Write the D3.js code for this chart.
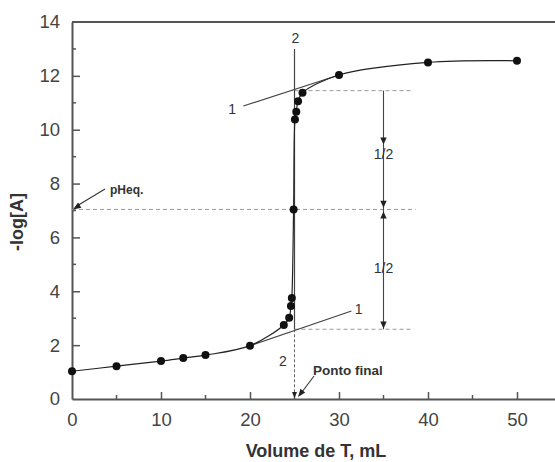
<!DOCTYPE html>
<html><head><meta charset="utf-8">
<script src="https://cdn.jsdelivr.net/npm/d3@7"></script>
<style>body{margin:0;background:#fff}svg{display:block;font-family:"Liberation Sans",Arial,sans-serif}</style>
</head><body><svg id="c" width="555" height="462"></svg>
<script>
// Data
const volume = [0, 5, 10, 12.5, 15, 20, 23.8, 24.4, 24.6, 24.7, 24.9, 25.05, 25.2, 25.4, 25.9, 30, 40, 50];
const logA   = [1.03, 1.22, 1.41, 1.52, 1.63, 1.98, 2.75, 3.02, 3.45, 3.75, 7.04, 10.38, 10.67, 11.06, 11.37, 12.03, 12.5, 12.56];
const xTicks = [0, 10, 20, 30, 40, 50];
const yTicks = [0, 2, 4, 6, 8, 10, 12, 14];
const lowerTangent = [[20, 1.98], [31.4, 3.27]];
const upperTangent = [[19.25, 10.88], [30, 12.03]];
const equivVolume = 25;
const verticalTop = 13.0;
const levels = [11.45, 7.04, 2.59];

const W = 555, H = 462;
const svg = d3.select("#c");
const x = d3.scaleLinear().domain([0, 55]).range([72, 561.5]);
const y = d3.scaleLinear().domain([0, 14]).range([399, 22]);
const ink = "#333", tickInk = "#444";

// frame
svg.append("line").attr("x1", x(0)).attr("x2", x(55)).attr("y1", y(14)).attr("y2", y(14)).attr("stroke", "#555").attr("stroke-width", 2);

// axes
const xAxis = d3.axisBottom(x).tickValues(xTicks).tickSize(-7).tickPadding(14).tickSizeOuter(0);
const gx = svg.append("g").attr("transform", `translate(0,${y(0)})`).call(xAxis);
const yAxis = d3.axisLeft(y).tickValues(yTicks).tickSize(-8).tickPadding(12).tickSizeOuter(0);
const gy = svg.append("g").attr("transform", `translate(${x(0)},0)`).call(yAxis);
[gx, gy].forEach(g => {
  g.select(".domain").attr("stroke", "#555").attr("stroke-width", 2);
  g.selectAll(".tick line").attr("stroke", "#555").attr("stroke-width", 1.5);
  g.selectAll(".tick text").attr("fill", tickInk).attr("font-size", 18.5).attr("font-family", "Liberation Sans, Arial, sans-serif");
});
gy.selectAll(".tick").filter(d => d === 0 || d === 14).select("line").remove();
gx.selectAll(".tick").filter(d => d === 0).select("line").remove();
// minor ticks
const xMinor = [5, 15, 25, 35, 45];
svg.append("g").selectAll("line").data(xMinor).join("line")
  .attr("x1", d => x(d)).attr("x2", d => x(d)).attr("y1", y(0)).attr("y2", y(0) - 4).attr("stroke", "#555").attr("stroke-width", 1.5);
const yMinor = [1, 3, 5, 7, 9, 11, 13];
svg.append("g").selectAll("line").data(yMinor).join("line")
  .attr("x1", x(0)).attr("x2", x(0) + 4).attr("y1", d => y(d)).attr("y2", d => y(d)).attr("stroke", "#555").attr("stroke-width", 1.5);

// axis titles
svg.append("text").attr("x", 316).attr("y", 457).attr("text-anchor", "middle").attr("font-weight", "bold").attr("font-size", 18).attr("fill", ink).text("Volume de T, mL");
svg.append("text").attr("transform", "translate(23,222) rotate(-90)").attr("text-anchor", "middle").attr("font-weight", "bold").attr("font-size", 18).attr("fill", ink).text("-log[A]");

// dashed level lines
const dash = "4,3";
svg.append("line").attr("x1", x(equivVolume)).attr("x2", x(38.3)).attr("y1", y(levels[0])).attr("y2", y(levels[0])).attr("stroke", "#999").attr("stroke-dasharray", dash);
svg.append("line").attr("x1", x(0)).attr("x2", x(38.6)).attr("y1", y(levels[1])).attr("y2", y(levels[1])).attr("stroke", "#999").attr("stroke-dasharray", dash);
svg.append("line").attr("x1", x(equivVolume)).attr("x2", x(38.4)).attr("y1", y(levels[2])).attr("y2", y(levels[2])).attr("stroke", "#999").attr("stroke-dasharray", dash);

// vertical line "2"
svg.append("line").attr("x1", x(equivVolume)).attr("x2", x(equivVolume)).attr("y1", y(verticalTop)).attr("y2", y(levels[2])).attr("stroke", "#444").attr("stroke-width", 1.2);
svg.append("line").attr("x1", x(equivVolume)).attr("x2", x(equivVolume)).attr("y1", y(levels[2])).attr("y2", y(0) - 2).attr("stroke", "#666").attr("stroke-dasharray", "3,2");

// tangents
const lineGen = d3.line().x(d => x(d[0])).y(d => y(d[1]));
svg.append("path").attr("d", lineGen(lowerTangent)).attr("fill", "none").attr("stroke", "#444").attr("stroke-width", 1.1);
svg.append("path").attr("d", lineGen(upperTangent)).attr("fill", "none").attr("stroke", "#444").attr("stroke-width", 1.1);

// curve
const pts = volume.map((v, i) => [v, logA[i]]);
const curve = d3.line().x(d => x(d[0])).y(d => y(d[1])).curve(d3.curveCatmullRom.alpha(0.5));
svg.append("path").attr("d", curve(pts)).attr("fill", "none").attr("stroke", "#222").attr("stroke-width", 1.2);
svg.append("g").selectAll("circle").data(pts).join("circle")
  .attr("cx", d => x(d[0])).attr("cy", d => y(d[1])).attr("r", 4).attr("fill", "#111");

// arrowheads
function tri(px, py, dir, s = 7, w = 3.2) {
  const k = dir === "down" ? -1 : 1;
  return `M${px},${py}L${px - w},${py + k * s}L${px + w},${py + k * s}Z`;
}
const arrowX = 35;
svg.append("line").attr("x1", x(arrowX)).attr("x2", x(arrowX)).attr("y1", y(levels[0])).attr("y2", y(levels[2])).attr("stroke", "#444").attr("stroke-width", 1.1);
const heads = [[arrowX, 9.45, "down"], [arrowX, levels[1] + 0.06, "down"], [arrowX, levels[1] - 0.08, "up"], [arrowX, levels[2] + 0.03, "down"]];
svg.append("g").selectAll("path").data(heads).join("path")
  .attr("d", d => tri(x(d[0]), y(d[1]), d[2])).attr("fill", "#222");

// labels
const small = (px, py, t, anchor = "middle") => svg.append("text").attr("x", px).attr("y", py).attr("text-anchor", anchor).attr("font-size", 14).attr("fill", ink).text(t);
small(x(35), y(9.1) + 5, "1/2");
small(x(35), y(4.86) + 5, "1/2");
small(x(18.0), y(10.76) + 5, "1");
small(x(32.2), y(3.34) + 5, "1");
small(x(25.1), y(13.4) + 5, "2");
small(x(23.7), y(1.42) + 5, "2");

// pHeq annotation
svg.append("text").attr("x", 110).attr("y", 194).attr("font-size", 12).attr("font-weight", "bold").attr("fill", ink).text("pHeq.");
svg.append("line").attr("x1", 105).attr("y1", 189).attr("x2", x(0) + 4).attr("y2", y(levels[1]) - 3).attr("stroke", "#333").attr("stroke-width", 1.1);
svg.append("path").attr("d", () => {
  const tx = x(0) + 1, ty = y(levels[1]);
  const a = Math.atan2(189 - ty, 105 - tx);
  const L = 8, w = 3;
  const bx = tx + L * Math.cos(a), by = ty + L * Math.sin(a);
  return `M${tx},${ty}L${bx - w * Math.sin(a)},${by + w * Math.cos(a)}L${bx + w * Math.sin(a)},${by - w * Math.cos(a)}Z`;
}).attr("fill", "#222");

// Ponto final annotation
svg.append("text").attr("x", 313).attr("y", 375).attr("font-size", 13.5).attr("font-weight", "bold").attr("fill", ink).text("Ponto final");
svg.append("line").attr("x1", 314).attr("y1", 376).attr("x2", 302).attr("y2", 392).attr("stroke", "#333").attr("stroke-width", 1.1);
svg.append("path").attr("d", () => {
  const tx = 298, ty = 397;
  const a = Math.atan2(376 - ty, 314 - tx);
  const L = 8, w = 3;
  const bx = tx + L * Math.cos(a), by = ty + L * Math.sin(a);
  return `M${tx},${ty}L${bx - w * Math.sin(a)},${by + w * Math.cos(a)}L${bx + w * Math.sin(a)},${by - w * Math.cos(a)}Z`;
}).attr("fill", "#222");
svg.append("path").attr("d", tri(x(equivVolume), y(0) - 1, "down", 6, 2.5)).attr("fill", "#222");
</script></body></html>
